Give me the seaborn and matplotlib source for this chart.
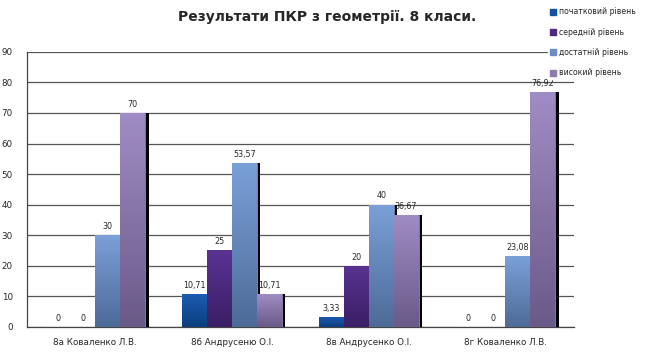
import numpy as np
import pandas as pd
import seaborn as sns
import matplotlib
matplotlib.use("Agg")
import matplotlib.pyplot as plt
import matplotlib.patheffects as pe
from matplotlib.colors import LinearSegmentedColormap

# chart data
classes = ["8а Коваленко Л.В.", "8б Андрусеню О.І.", "8в Андрусенко О.І.", "8г Коваленко Л.В."]
levels = ["початковий рівень", "середній рівень", "достатній рівень", "високий рівень"]
pochatkovyi = [0, 10.71, 3.33, 0]
serednii = [0, 25, 20, 0]
dostatnii = [30, 53.57, 40, 23.08]
vysokyi = [70, 10.71, 36.67, 76.92]
colors = ["#1550a0", "#4b2a80", "#6b8cc4", "#8f7bb0"]
tops = ["#1b5cb2", "#5a3392", "#7aa0d8", "#a08cc4"]
bottoms = ["#0c3e7e", "#3a1f66", "#4e6b98", "#6a5a88"]

rows = []
for lvl, vals in zip(levels, [pochatkovyi, serednii, dostatnii, vysokyi]):
    for c, v in zip(classes, vals):
        rows.append({"class": c, "level": lvl, "value": v})
df = pd.DataFrame(rows)

sns.set_style("white")
plt.rcParams["font.family"] = ["DejaVu Sans"]

fig = plt.figure(figsize=(6.55, 3.6), dpi=100)
ax = fig.add_axes([0.041, 0.092, 0.835, 0.764])

sns.barplot(data=df, x="class", y="value", hue="level", hue_order=levels,
            order=classes, palette=colors, width=0.73, gap=0, saturation=1,
            errorbar=None, legend=False, ax=ax, zorder=3)

ax.set_ylim(0, 90)
ax.set_xlim(-0.5, len(classes) - 0.5)

# vertical gradient fill + dark shadow on right side, like the original office chart
for i, cont in enumerate(ax.containers):
    cmap = LinearSegmentedColormap.from_list(f"g{i}", [bottoms[i], tops[i]])
    for bar in cont:
        h = bar.get_height()
        if h <= 0:
            continue
        x0, w = bar.get_x(), bar.get_width()
        bar.set_edgecolor(tops[i])
        bar.set_linewidth(0.5)
        bar.set_path_effects([pe.SimplePatchShadow(offset=(2.5, 0), shadow_rgbFace="black", alpha=1),
                              pe.Normal()])
        grad = np.linspace(0, 1, 64).reshape(-1, 1)
        im = ax.imshow(grad, cmap=cmap, origin="lower", aspect="auto",
                       extent=[x0, x0 + w, 0, h], zorder=3.5)
        im.set_clip_path(bar)
ax.set_xlim(-0.5, len(classes) - 0.5)
ax.set_ylim(0, 90)

for cont in ax.containers:
    labels = [f"{v:g}".replace(".", ",") for v in cont.datavalues]
    ax.bar_label(cont, labels=labels, padding=3, fontsize=5.8, zorder=5)

ax.set_yticks(np.arange(0, 91, 10))
ax.set_xticks(np.arange(len(classes) + 1) - 0.5, minor=True)
ax.set_xticks(np.arange(len(classes)))
ax.set_xticklabels(classes, fontsize=6.3)
ax.tick_params(axis="x", which="major", length=0, pad=8)
ax.tick_params(axis="x", which="minor", length=4, color="#444444", direction="out")
ax.tick_params(axis="y", labelsize=6.3, length=4, color="#444444", direction="out", pad=6)
ax.yaxis.grid(True, color="#555555", linewidth=0.9, zorder=0)
ax.set_axisbelow(True)
ax.set_xlabel("")
ax.set_ylabel("")
for s in ["top", "right"]:
    ax.spines[s].set_visible(False)
for s in ["left", "bottom"]:
    ax.spines[s].set_color("#444444")
    ax.spines[s].set_linewidth(0.9)

fig.text(0.5, 0.952, "Результати ПКР з геометрії. 8 класи.",
         ha="center", va="center", fontsize=10, fontweight="bold")

handles = [plt.Rectangle((0, 0), 1, 1, color=c) for c in colors]
leg = fig.legend(handles, levels, loc="upper left", bbox_to_anchor=(0.835, 0.988),
                 fontsize=5.6, frameon=True, edgecolor="white", facecolor="white",
                 framealpha=1, handlelength=0.8, handleheight=0.8,
                 handletextpad=0.3, labelspacing=1.45, borderaxespad=0.2,
                 borderpad=0.2)

fig.savefig("out.png", dpi=100, facecolor="white")
